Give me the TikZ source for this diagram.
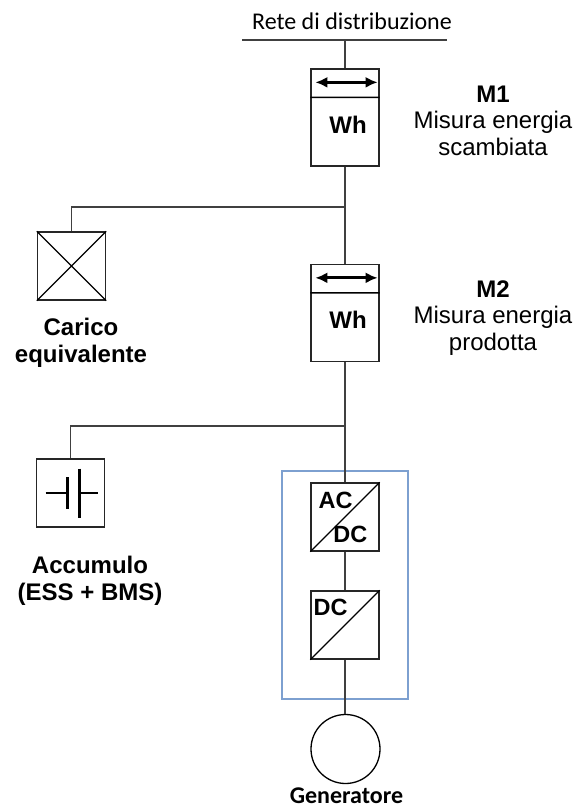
\documentclass[tikz,border=0pt]{standalone}
\usepackage{fontspec}
\setmainfont{Liberation Sans}
\newfontfamily\calfont{Carlito}
\usetikzlibrary{arrows.meta}

\definecolor{wire}{RGB}{64,64,64}
\definecolor{frame}{RGB}{125,160,208}

\newcommand{\lblsize}{\fontsize{24}{26.5}\selectfont}
\newcommand{\convsize}{\fontsize{23.5}{26}\selectfont\bfseries}

\begin{document}
\begin{tikzpicture}[x=1pt,y=-1pt,line width=1.3pt,
    box/.style={draw=black!85,rectangle,inner sep=0pt,minimum width=68pt,minimum height=68pt},
    meter/.style={box,minimum height=97pt},
    flow/.style={{Latex[length=12pt,width=11pt]}-{Latex[length=12pt,width=11pt]},line width=3pt},
    label/.style={font=\lblsize,align=center,anchor=base,inner sep=0pt}]

\useasboundingbox (0,0) rectangle (576,809);

\coordinate (busw) at (242,40);
\coordinate (buse) at (447,40);
\coordinate (bus) at (345,40);
\coordinate (j1) at (345,207);
\coordinate (j2) at (345,426);

\node (m1) at (345,117.5) [meter] {};
\node (m2) at (345,313) [meter] {};
\node (load) at (71.5,266) [box] {};
\node (ess) at (70.5,493) [box] {};
\node (acdc) at (345,517) [box] {};
\node (dcdc) at (345,625) [box] {};
\node (gen) at (345.5,749) [circle,draw=black,inner sep=0pt,minimum size=69pt] {};

\node (rete) at (352,29) [label,font=\calfont\lblsize] {Rete di distribuzione};
\node (lm1) at (493,155) [label] {\textbf{M1}\\Misura energia\\scambiata};
\node (lm2) at (493,350) [label] {\textbf{M2}\\Misura energia\\prodotta};
\node (lload) at (81,362) [label,font=\lblsize\bfseries] {Carico\\equivalente};
\node (less) at (90,600) [label,font=\lblsize\bfseries] {Accumulo\\(ESS + BMS)};
\node (lgen) at (346.5,803) [label,font=\calfont\lblsize\bfseries] {Generatore};

\node at (348,133) [label,font=\lblsize\bfseries] {Wh};
\node at (348,328) [label,font=\lblsize\bfseries] {Wh};
\node [anchor=base west,font=\convsize,inner sep=0pt] at (318,508) {AC};
\node [anchor=base east,font=\convsize,inner sep=0pt] at (368,542) {DC};
\node [anchor=base west,font=\convsize,inner sep=0pt] at (313,615) {DC};

\draw [frame,line width=1.2pt] (282,471) rectangle (408,699);

\path [draw,wire]
    (busw) -- (buse)
    (bus) -- (m1.north)
    (m1.south) -- (m2.north)
    (m2.south) -- (acdc.north)
    (acdc.south) -- (dcdc.north)
    (dcdc.south) -- (dcdc.south |- gen.north)
    (j1) -| (load.north)
    (j2) -| (ess.north)
;

\path [draw,black]
    ([yshift=-29pt]m1.north west) -- ([yshift=-29pt]m1.north east)
    ([yshift=-29pt]m2.north west) -- ([yshift=-29pt]m2.north east)
    (load.north west) -- (load.south east)
    (load.south west) -- (load.north east)
    (acdc.south west) -- (acdc.north east)
    (dcdc.south west) -- (dcdc.north east)
;

\draw [flow] ([shift={(5pt,-14pt)}]m1.north west) -- ([shift={(-2pt,-14pt)}]m1.north east);
\draw [flow] ([shift={(5pt,-14pt)}]m2.north west) -- ([shift={(-2pt,-14pt)}]m2.north east);

% battery
\path [draw,line width=2.2pt]
    ([xshift=-25pt]ess.center) -- ([xshift=-3pt]ess.center)
    ([xshift=9pt]ess.center) -- ([xshift=27pt]ess.center)
;
\path [draw,line width=3.2pt]
    ([shift={(-3pt,16pt)}]ess.center) -- ([shift={(-3pt,-16pt)}]ess.center)
    ([shift={(9pt,24.5pt)}]ess.center) -- ([shift={(9pt,-24.5pt)}]ess.center)
;

\end{tikzpicture}
\end{document}
